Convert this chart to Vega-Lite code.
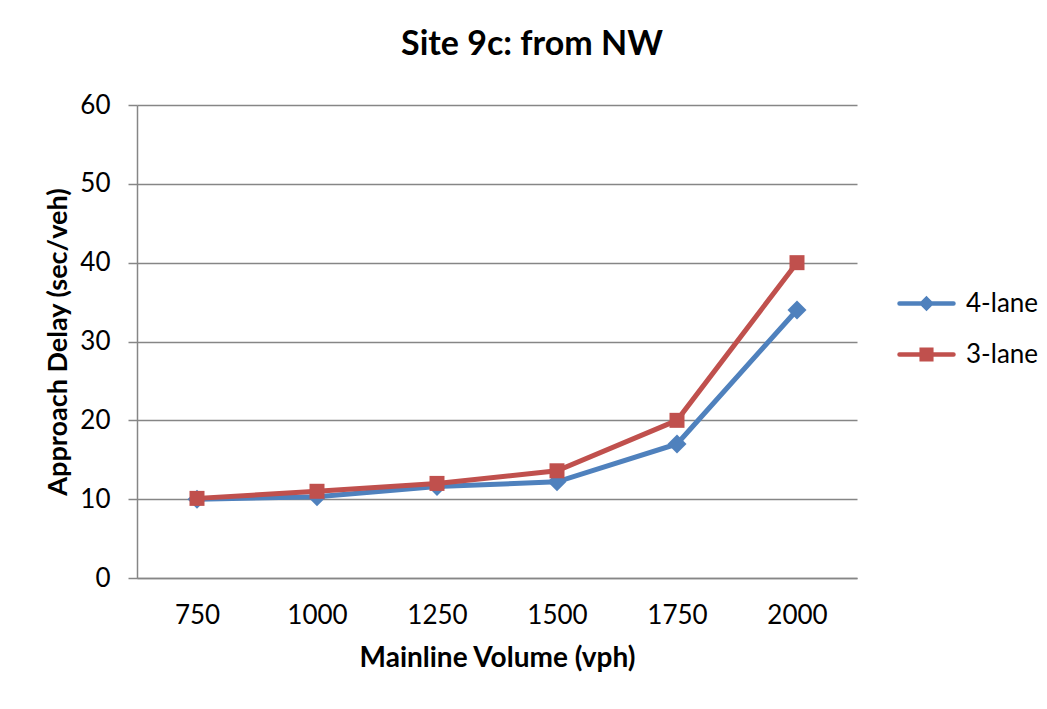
{
  "$schema": "https://vega.github.io/schema/vega-lite/v6.json",
  "width": 720,
  "height": 473,
  "autosize": {"type": "none"},
  "padding": {"left": 137, "top": 105, "right": 190, "bottom": 131},
  "background": "white",
  "title": {
    "text": "Site 9c: from NW",
    "font": "Lato",
    "fontSize": 34,
    "fontWeight": "bold",
    "color": "#000000",
    "anchor": "middle",
    "dx": 35,
    "offset": 30
  },
  "config": {
    "view": {"stroke": null},
    "font": "Lato"
  },
  "data": {
    "values": [
      {"volume": "750", "series": "4-lane", "delay": 10.0},
      {"volume": "1000", "series": "4-lane", "delay": 10.3},
      {"volume": "1250", "series": "4-lane", "delay": 11.6},
      {"volume": "1500", "series": "4-lane", "delay": 12.2},
      {"volume": "1750", "series": "4-lane", "delay": 17.0},
      {"volume": "2000", "series": "4-lane", "delay": 34.0},
      {"volume": "750", "series": "3-lane", "delay": 10.1},
      {"volume": "1000", "series": "3-lane", "delay": 11.0},
      {"volume": "1250", "series": "3-lane", "delay": 12.0},
      {"volume": "1500", "series": "3-lane", "delay": 13.6},
      {"volume": "1750", "series": "3-lane", "delay": 20.0},
      {"volume": "2000", "series": "3-lane", "delay": 40.0}
    ]
  },
  "encoding": {
    "x": {
      "field": "volume",
      "type": "ordinal",
      "sort": ["750", "1000", "1250", "1500", "1750", "2000"],
      "scale": {"type": "point", "padding": 0.5},
      "axis": {
        "title": "Mainline Volume (vph)",
        "titleFont": "Lato",
        "titleFontSize": 28,
        "titleFontWeight": "bold",
        "titleColor": "#000000",
        "titlePadding": 16,
        "labelFont": "Lato",
        "labelFontSize": 26,
        "labelColor": "#000000",
        "labelPadding": 24,
        "labelAngle": 0,
        "ticks": false,
        "grid": false,
        "domainColor": "#868686",
        "domainWidth": 1.5
      }
    },
    "y": {
      "field": "delay",
      "type": "quantitative",
      "scale": {"domain": [0, 60], "nice": false},
      "axis": {
        "title": "Approach Delay (sec/veh)",
        "titleFont": "Lato",
        "titleFontSize": 27,
        "titleFontWeight": "bold",
        "titleColor": "#000000",
        "titlePadding": 7,
        "labelFont": "Lato",
        "labelFontSize": 26,
        "labelColor": "#000000",
        "labelPadding": 18,
        "values": [0, 10, 20, 30, 40, 50, 60],
        "tickSize": 9,
        "tickColor": "#868686",
        "tickWidth": 1.5,
        "grid": true,
        "gridColor": "#868686",
        "gridWidth": 1.5,
        "domainColor": "#868686",
        "domainWidth": 1.5
      }
    },
    "color": {
      "field": "series",
      "type": "nominal",
      "scale": {"domain": ["4-lane", "3-lane"], "range": ["#4F81BD", "#C0504D"]},
      "legend": {
        "title": null,
        "orient": "none",
        "legendX": 772,
        "legendY": 181,
        "labelFont": "Lato",
        "labelFontSize": 26,
        "labelColor": "#000000",
        "symbolSize": 900,
        "symbolStrokeWidth": 4.5,
        "rowPadding": 20,
        "labelOffset": 22,
        "encode": {
          "symbols": {
            "update": {
              "shape": {"signal": "datum.value === '4-lane' ? 'M-1.8,0H1.8M0,-0.3L0.3,0L0,0.3L-0.3,0Z' : 'M-1.8,0H1.8M-0.32,-0.32H0.32V0.32H-0.32Z'"},
              "strokeCap": {"value": "round"}
            }
          }
        }
      }
    }
  },
  "layer": [
    {
      "transform": [{"filter": "datum.series === '4-lane'"}],
      "mark": {
        "type": "line",
        "strokeWidth": 5,
        "strokeCap": "round",
        "point": {"shape": "diamond", "size": 360, "filled": true, "opacity": 1}
      }
    },
    {
      "transform": [{"filter": "datum.series === '3-lane'"}],
      "mark": {
        "type": "line",
        "strokeWidth": 5,
        "strokeCap": "round",
        "point": {"shape": "square", "size": 225, "filled": true, "opacity": 1}
      }
    }
  ]
}
